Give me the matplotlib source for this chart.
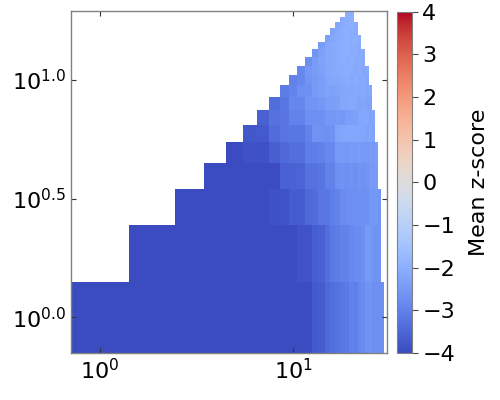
import numpy as np
import matplotlib
matplotlib.use('Agg')
import matplotlib.pyplot as plt

# grid of integer bins (x: 1..30, y: 1..19)
x_vals = list(range(1, 31))
y_vals = list(range(1, 20))

# mean z-score per row; each row starts at x == y
z_y1 = [-4.5, -4.5, -4.5, -4.5, -4.5, -4.5, -4.5, -4.5, -4.5, -4.5, -4.4, -4.2,
        -3.75, -3.7, -3.5, -3.35, -3.3, -3.2, -3.15, -3.0, -3.05, -2.85, -2.8,
        -2.65, -2.6, -2.7, -2.7, -2.75, -2.7]
z_y2 = [-4.5, -4.5, -4.5, -4.5, -4.5, -4.5, -4.5, -4.4, -4.2, -3.85, -3.85,
        -3.65, -3.6, -3.35, -3.15, -3.1, -3.0, -3.0, -2.85, -2.8, -2.8, -2.75,
        -2.5, -2.5, -2.6, -2.65, -2.65]
z_y3 = [-4.5, -4.5, -4.5, -4.4, -4.3, -3.9, -3.85, -3.7, -3.7, -3.45, -3.4,
        -3.25, -3.2, -3.05, -3.0, -2.8, -2.75, -2.75, -2.75, -2.7, -2.75, -2.7,
        -2.55, -2.55, -2.55, -2.6]
z_y4 = [-4.4, -4.3, -4.2, -4.1, -4.05, -3.6, -3.6, -3.55, -3.3, -3.3, -3.25,
        -3.0, -3.0, -2.7, -2.65, -2.7, -2.65, -2.7, -2.6, -2.65, -2.6, -2.5,
        -2.5, -2.5]
z_y5 = [-4.1, -3.9, -3.9, -3.65, -3.45, -3.35, -3.35, -3.05, -3.05, -3.0,
        -2.85, -2.85, -2.5, -2.5, -2.55, -2.5, -2.5, -2.45, -2.5, -2.5, -2.45,
        -2.5, -2.4]
z_y6 = [-3.8, -3.75, -3.4, -3.25, -3.2, -3.2, -3.0, -2.65, -2.65, -2.7, -2.65,
        -2.3, -2.25, -2.25, -2.2, -2.25, -2.25, -2.25, -2.3, -2.25, -2.3]
z_y7 = [-3.6, -3.3, -3.25, -3.0, -3.0, -2.75, -2.75, -2.7, -2.55, -2.55, -2.5,
        -2.55, -2.4, -2.4, -2.35, -2.25, -2.25, -2.2, -2.3, -2.25]
z_y8 = [-3.4, -3.2, -2.9, -2.9, -2.6, -2.6, -2.55, -2.4, -2.4, -2.35, -2.2,
        -2.2, -2.15, -2.2, -2.3, -2.25, -2.3, -2.3]
z_y9 = [-3.1, -2.95, -2.75, -2.7, -2.5, -2.4, -2.3, -2.35, -2.3, -2.25, -2.2,
        -2.2, -2.15, -2.2, -2.15, -2.2, -2.2]
z_y10 = [-3.0, -2.9, -2.6, -2.5, -2.4, -2.25, -2.2, -2.2, -2.15, -2.1, -2.15,
         -2.1, -2.2, -2.15, -2.25]
z_y11 = [-2.9, -2.55, -2.45, -2.35, -2.2, -2.15, -2.1, -2.1, -2.05, -2.1,
         -2.15, -2.1, -2.2, -2.15]
z_y12 = [-2.75, -2.45, -2.3, -2.2, -2.15, -2.1, -2.05, -2.1, -2.05, -2.15,
         -2.1, -2.15]
z_y13 = [-2.6, -2.35, -2.2, -2.15, -2.1, -2.05, -2.0, -2.1, -2.05, -2.15, -2.1]
z_y14 = [-2.45, -2.2, -2.15, -2.1, -2.05, -2.0, -2.05, -2.1, -2.1]
z_y15 = [-2.35, -2.2, -2.1, -2.05, -2.0, -2.05, -2.0, -2.1]
z_y16 = [-2.3, -2.15, -2.05, -2.0, -2.05, -2.1]
z_y17 = [-2.2, -2.1, -2.05, -2.0, -2.1]
z_y18 = [-2.1, -2.05, -2.0]
z_y19 = [-2.0, -2.0]

z_rows = [z_y1, z_y2, z_y3, z_y4, z_y5, z_y6, z_y7, z_y8, z_y9, z_y10,
          z_y11, z_y12, z_y13, z_y14, z_y15, z_y16, z_y17, z_y18, z_y19]

Z = np.full((len(y_vals), len(x_vals)), np.nan)
for i, row in enumerate(z_rows):
    start = x_vals.index(y_vals[i])
    Z[i, start:start + len(row)] = row
Z = np.ma.masked_invalid(Z)

fig = plt.figure(figsize=(5, 4), dpi=100)
ax = fig.add_axes([0.142, 0.1175, 0.632, 0.855])
cax = fig.add_axes([0.794, 0.1175, 0.030, 0.853])

mesh = ax.pcolormesh(np.log10(x_vals), np.log10(y_vals), Z, cmap='coolwarm',
                     vmin=-4, vmax=4, shading='nearest')

ax.set_xticks([0, 1])
ax.set_xticklabels([r'$\mathdefault{10^{0}}$', r'$\mathdefault{10^{1}}$'])
ax.set_yticks([0.0, 0.5, 1.0])
ax.set_yticklabels([r'$\mathdefault{10^{0.0}}$', r'$\mathdefault{10^{0.5}}$',
                    r'$\mathdefault{10^{1.0}}$'])
ax.tick_params(direction='in', top=True, right=True, length=3.5, width=0.8,
               labelsize=16, color='0.2')
for sp in ax.spines.values():
    sp.set_color('0.5')
    sp.set_linewidth(1.0)

cb = fig.colorbar(mesh, cax=cax, ticks=[-4, -3, -2, -1, 0, 1, 2, 3, 4])
cb.ax.tick_params(labelsize=16, length=4, width=0.8, color='0.3')
cb.outline.set_edgecolor('0.5')
cb.outline.set_linewidth(0.8)
cb.set_label('Mean z-score', fontsize=16, labelpad=10)

fig.savefig('out.png', dpi=100)
